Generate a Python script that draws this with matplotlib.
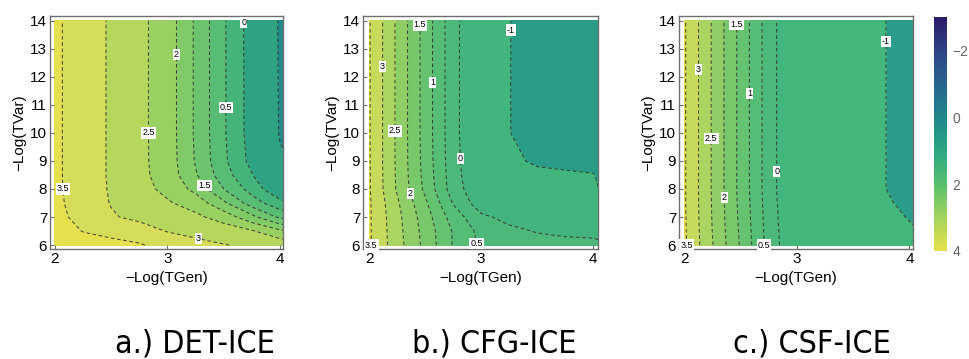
import numpy as np
import matplotlib
matplotlib.use("Agg")
import matplotlib.pyplot as plt
from matplotlib.colors import ListedColormap, BoundaryNorm, LinearSegmentedColormap, Normalize
from matplotlib.cm import ScalarMappable
from matplotlib import font_manager
from matplotlib.font_manager import FontProperties

plt.rcParams['font.family'] = ['Liberation Sans', 'DejaVu Sans']
plt.rcParams['lines.dashed_pattern'] = (3.5, 2.5)

# grid: -Log(TGen) columns, -Log(TVar) rows
log_tgen = [2.0, 2.25, 2.5, 2.75, 3.0, 3.25, 3.5, 3.75, 4.0, 4.046]
log_tvar = [6, 6.5, 7, 7.5, 8, 8.5, 9, 10, 14]

det_ice = [
    [3.90, 3.75, 3.65, 3.55, 3.30, 3.15, 3.02, 2.92, 2.85, 2.80],
    [3.80, 3.48, 3.35, 3.20, 2.98, 2.85, 2.75, 2.55, 2.10, 2.05],
    [3.68, 3.30, 3.04, 2.90, 2.80, 2.60, 2.30, 1.65, 0.90, 0.85],
    [3.63, 3.24, 2.98, 2.75, 2.55, 2.30, 1.60, 0.75, 0.15, 0.10],
    [3.61, 3.22, 2.96, 2.66, 2.38, 1.85, 1.00, 0.30, -0.45, -0.50],
    [3.60, 3.22, 2.95, 2.62, 2.30, 1.55, 0.72, 0.03, -0.75, -0.80],
    [3.60, 3.22, 2.95, 2.61, 2.28, 1.46, 0.60, -0.15, -0.92, -0.97],
    [3.60, 3.22, 2.95, 2.61, 2.27, 1.43, 0.56, -0.22, -1.04, -1.08],
    [3.60, 3.22, 2.95, 2.61, 2.27, 1.43, 0.56, -0.23, -1.07, -1.12],
]

cfg_ice = [
    [3.57, 2.71, 1.86, 0.97, 0.42, 0.30, 0.20, 0.12, 0.10, 0.08],
    [3.57, 2.68, 1.82, 0.96, 0.35, 0.12, -0.03, -0.08, -0.10, -0.12],
    [3.57, 2.65, 1.75, 0.77, 0.10, -0.15, -0.25, -0.30, -0.35, -0.45],
    [3.57, 2.58, 1.60, 0.47, -0.28, -0.40, -0.50, -0.55, -0.60, -0.75],
    [3.55, 2.45, 1.40, 0.25, -0.40, -0.55, -0.65, -0.72, -0.78, -0.99],
    [3.55, 2.43, 1.35, 0.22, -0.50, -0.72, -0.85, -0.92, -0.97, -1.05],
    [3.545, 2.42, 1.32, 0.20, -0.55, -0.85, -1.10, -1.15, -1.20, -1.20],
    [3.545, 2.42, 1.30, 0.18, -0.60, -0.98, -1.30, -1.40, -1.45, -1.47],
    [3.545, 2.42, 1.30, 0.18, -0.60, -0.98, -1.30, -1.40, -1.45, -1.47],
]

csf_ice = [
    [3.56, 2.50, 1.43, 0.30, -0.50, -0.64, -0.74, -0.80, -0.90, -0.93],
    [3.55, 2.47, 1.40, 0.28, -0.53, -0.67, -0.77, -0.84, -0.95, -0.98],
    [3.54, 2.45, 1.37, 0.26, -0.56, -0.70, -0.80, -0.88, -1.02, -1.05],
    [3.53, 2.44, 1.35, 0.24, -0.58, -0.73, -0.83, -0.92, -1.10, -1.13],
    [3.53, 2.43, 1.33, 0.22, -0.60, -0.75, -0.85, -0.97, -1.15, -1.18],
    [3.53, 2.43, 1.33, 0.22, -0.60, -0.75, -0.85, -0.97, -1.15, -1.18],
    [3.53, 2.43, 1.33, 0.22, -0.60, -0.75, -0.85, -0.97, -1.15, -1.18],
    [3.53, 2.43, 1.33, 0.22, -0.60, -0.75, -0.85, -0.97, -1.15, -1.18],
    [3.53, 2.43, 1.33, 0.22, -0.60, -0.75, -0.85, -0.97, -1.15, -1.18],
]

fill_levels = [-2, -1, 0, 0.5, 1, 1.5, 2, 2.5, 3, 3.5, 4]
line_levels = [-1, 0, 0.5, 1, 1.5, 2, 2.5, 3, 3.5]

captions = ["a.) DET-ICE", "b.) CFG-ICE", "c.) CSF-ICE"]

# region colours, lowest band first
band_colors = [
    ['#22898a', '#2fa283', '#45b47a', '#58bd74', '#6cc46e', '#80ca68',
     '#98d062', '#b5d75e', '#d4dc5a', '#e6e04e'],
    ['#2a9d88', '#42b57c', '#4cb87a', '#55bd76', '#64c271', '#78c86b',
     '#8fce66', '#aad560', '#c8da5c', '#e2df52'],
    ['#2a9c89', '#42b67b', '#4cb87a', '#55bd76', '#64c271', '#78c86b',
     '#8fce66', '#aad560', '#c8da5c', '#e2df52'],
]

# contour label anchors (level, x, y)
label_spots = [
    [(0, 3.68, 13.95), (2, 3.08, 12.8), (0.5, 3.53, 10.9), (2.5, 2.83, 10.0),
     (3.5, 2.07, 8.0), (1.5, 3.29, 8.0), (3, 3.27, 6.15)],
    [(1.5, 2.455, 13.85), (-1, 3.26, 13.67), (3, 2.13, 12.36), (1, 2.57, 11.8),
     (2.5, 2.24, 10.07), (0, 2.79, 9.09), (2, 2.37, 7.84), (0.5, 2.93, 6.03),
     (3.5, 2.03, 5.99)],
    [(1.5, 2.46, 13.88), (-1, 3.79, 13.25), (3, 2.12, 12.27), (1, 2.57, 11.41),
     (2.5, 2.24, 9.8), (0, 2.8, 8.61), (2, 2.35, 7.7), (0.5, 2.72, 5.99),
     (3.5, 2.01, 5.99)],
]

panels = [det_ice, cfg_ice, csf_ice]
axes_rects = [
    [50 / 970, 1 - 249 / 359, 233 / 970, 233 / 359],
    [363 / 970, 1 - 249 / 359, 235 / 970, 233 / 359],
    [679 / 970, 1 - 249 / 359, 234 / 970, 233 / 359],
]
xlims = [(1.956, 4.027), (1.946, 4.045), (1.947, 4.032)]
caption_x = [195 / 970, 494 / 970, 812 / 970]

frame_gray = '#6e6e6e'


def pick_caption_font():
    """Prefer a narrow sans face for the panel captions."""
    entries = font_manager.fontManager.ttflist
    for want in ('Liberation Sans Narrow', 'Arial Narrow'):
        for f in entries:
            if f.name == want and f.style == 'normal' and f.weight in (400, 'normal', 'regular'):
                return FontProperties(fname=f.fname, size=24), True
    for f in entries:
        if (str(f.stretch) in ('condensed', 'semi-condensed', 'extra-condensed')
                and 'Sans' in f.name and f.style == 'normal'
                and f.weight in (400, 'normal', 'regular')):
            return FontProperties(fname=f.fname, size=23), True
    return FontProperties(family='Liberation Sans', size=21), False


def nearest_on_level(cs, level, x, y, xscale=4.0):
    """Point of the given contour level closest to (x, y)."""
    segs = cs.allsegs[list(cs.levels).index(level)]
    best, best_d = None, np.inf
    p = np.array([x * xscale, y])
    for s in segs:
        if len(s) < 2:
            continue
        a = s[:-1] * [xscale, 1.0]
        b = s[1:] * [xscale, 1.0]
        ab = b - a
        denom = (ab ** 2).sum(axis=1)
        denom[denom == 0] = 1e-12
        t = np.clip(((p - a) * ab).sum(axis=1) / denom, 0, 1)
        q = a + ab * t[:, None]
        d = ((q - p) ** 2).sum(axis=1)
        i = np.argmin(d)
        if d[i] < best_d:
            best_d = d[i]
            best = (q[i, 0] / xscale, q[i, 1])
    return best


cap_font, _ = pick_caption_font()

fig = plt.figure(figsize=(9.7, 3.59), dpi=100)
X, Y = np.meshgrid(log_tgen, log_tvar)

for k, Z in enumerate(panels):
    ax = fig.add_axes(axes_rects[k])
    Z = np.asarray(Z)
    cmap = ListedColormap(band_colors[k])
    norm = BoundaryNorm(fill_levels, cmap.N)
    ax.contourf(X, Y, Z, levels=fill_levels, cmap=cmap, norm=norm)
    cs = ax.contour(X, Y, Z, levels=line_levels, colors='#2f2f2f',
                    linewidths=0.75, linestyles='dashed', alpha=0.85)
    for lvl, lx, ly in label_spots[k]:
        px, py = nearest_on_level(cs, lvl, lx, ly)
        ax.text(px, py, f"{lvl:g}", fontsize=6.5, ha='center', va='center',
                zorder=5, clip_on=False,
                bbox=dict(boxstyle='square,pad=0.12', fc='white', ec='none'))

    ax.set_xlim(*xlims[k])
    ax.set_ylim(5.86, 14.17)
    ax.set_xticks([2, 3, 4])
    ax.set_yticks(range(6, 15))
    ax.tick_params(direction='in', length=3, width=0.8, color=frame_gray,
                   labelsize=11, pad=2, top=False, right=False)
    for sp in ax.spines.values():
        sp.set_color(frame_gray)
        sp.set_linewidth(1.0)
    ax.set_xlabel('\u2212Log(TGen)', fontsize=11, labelpad=4)
    ax.set_ylabel('\u2212Log(TVar)', fontsize=11, labelpad=3)

    fig.text(caption_x[k], 0.042, captions[k], ha='center', va='center',
             fontproperties=cap_font)

# shared colour legend, -3 at the top down to 4 at the bottom
bar_stops = ['#2b1a6a', '#2e4386', '#28648c', '#20878c', '#2ba784',
             '#57bf6d', '#a2d45c', '#e6e04c']
bar_cmap = LinearSegmentedColormap.from_list('bar', bar_stops)
cax = fig.add_axes([934 / 970, 1 - 251 / 359, 13 / 970, 234 / 359])
sm = ScalarMappable(norm=Normalize(-3, 4), cmap=bar_cmap)
cb = fig.colorbar(sm, cax=cax, ticks=[-2, 0, 2, 4])
cb.outline.set_visible(False)
cax.invert_yaxis()
cax.tick_params(length=0, labelsize=10, labelcolor='#666666', pad=4)

fig.savefig('out.png', dpi=100)
